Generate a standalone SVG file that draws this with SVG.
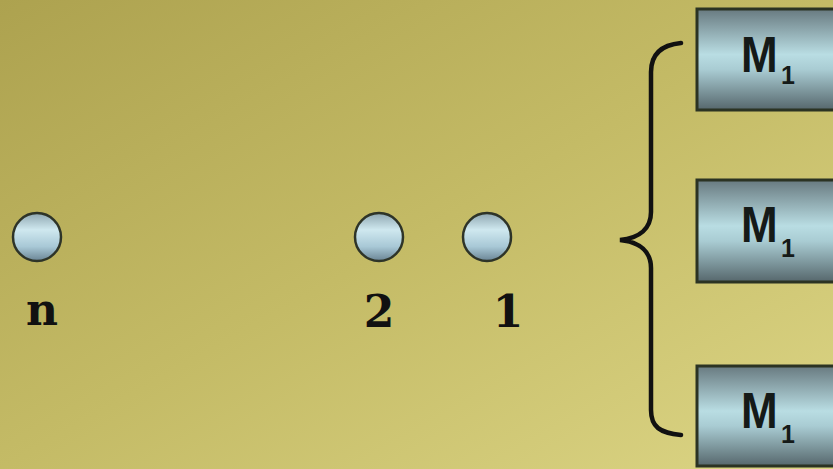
<svg xmlns="http://www.w3.org/2000/svg" width="833" height="469" viewBox="0 0 833 469">
<defs>
<linearGradient id="bg" x1="0" y1="0" x2="1" y2="1">
<stop offset="0" stop-color="#ada24f"/>
<stop offset="0.5" stop-color="#c4bb66"/>
<stop offset="1" stop-color="#dcd585"/>
</linearGradient>
<linearGradient id="boxV" x1="0" y1="0" x2="0" y2="1">
<stop offset="0" stop-color="#687a80"/>
<stop offset="0.45" stop-color="#b9dde3"/>
<stop offset="0.6" stop-color="#a9ccd3"/>
<stop offset="1" stop-color="#56676c"/>
</linearGradient>
<linearGradient id="circ" x1="0" y1="0" x2="0" y2="1">
<stop offset="0" stop-color="#8ea6b0"/>
<stop offset="0.35" stop-color="#cfe8ef"/>
<stop offset="0.7" stop-color="#a8c8d6"/>
<stop offset="1" stop-color="#6a8494"/>
</linearGradient>
<style>
.box{fill:url(#boxV);stroke:#2b3323;stroke-width:3}
.dot{fill:url(#circ);stroke:#2e3428;stroke-width:2.5}
.num{font-family:"DejaVu Serif","Liberation Serif",serif;font-weight:bold;font-size:44px;fill:#111;text-anchor:middle}
.m{font-family:"Liberation Sans",Arial,sans-serif;font-weight:bold;font-size:50px;fill:#151a18}
.sub{font-family:"Liberation Sans",Arial,sans-serif;font-weight:bold;font-size:25px;fill:#151a18}
</style>
</defs>
<rect width="833" height="469" fill="url(#bg)"/>
<g id="node-n"><circle class="dot" cx="37" cy="237" r="24"/><text class="num" x="42" y="325">n</text></g>
<g id="node-2"><circle class="dot" cx="379" cy="237" r="24"/><text class="num" x="379" y="327">2</text></g>
<g id="node-1"><circle class="dot" cx="487" cy="237" r="24"/><text class="num" x="508" y="327">1</text></g>
<g id="connectors">
<path d="M681,43 C660,45 651,55 651,72 L651,212 C651,228 640,238 620,240 C640,242 651,252 651,268 L651,410 C651,427 660,433 681,435" fill="none" stroke="#111" stroke-width="4.5" stroke-linecap="round"/>
</g>
<g id="box-top"><rect class="box" x="697" y="9" width="140" height="101"/><text class="m" transform="translate(741,72) scale(0.88,1)">M</text><text class="sub" x="781" y="84">1</text></g>
<g id="box-mid"><rect class="box" x="697" y="180" width="140" height="102"/><text class="m" transform="translate(741,242) scale(0.88,1)">M</text><text class="sub" x="781" y="257">1</text></g>
<g id="box-bot"><rect class="box" x="697" y="366" width="140" height="100"/><text class="m" transform="translate(741,428) scale(0.88,1)">M</text><text class="sub" x="781" y="443">1</text></g>
</svg>
